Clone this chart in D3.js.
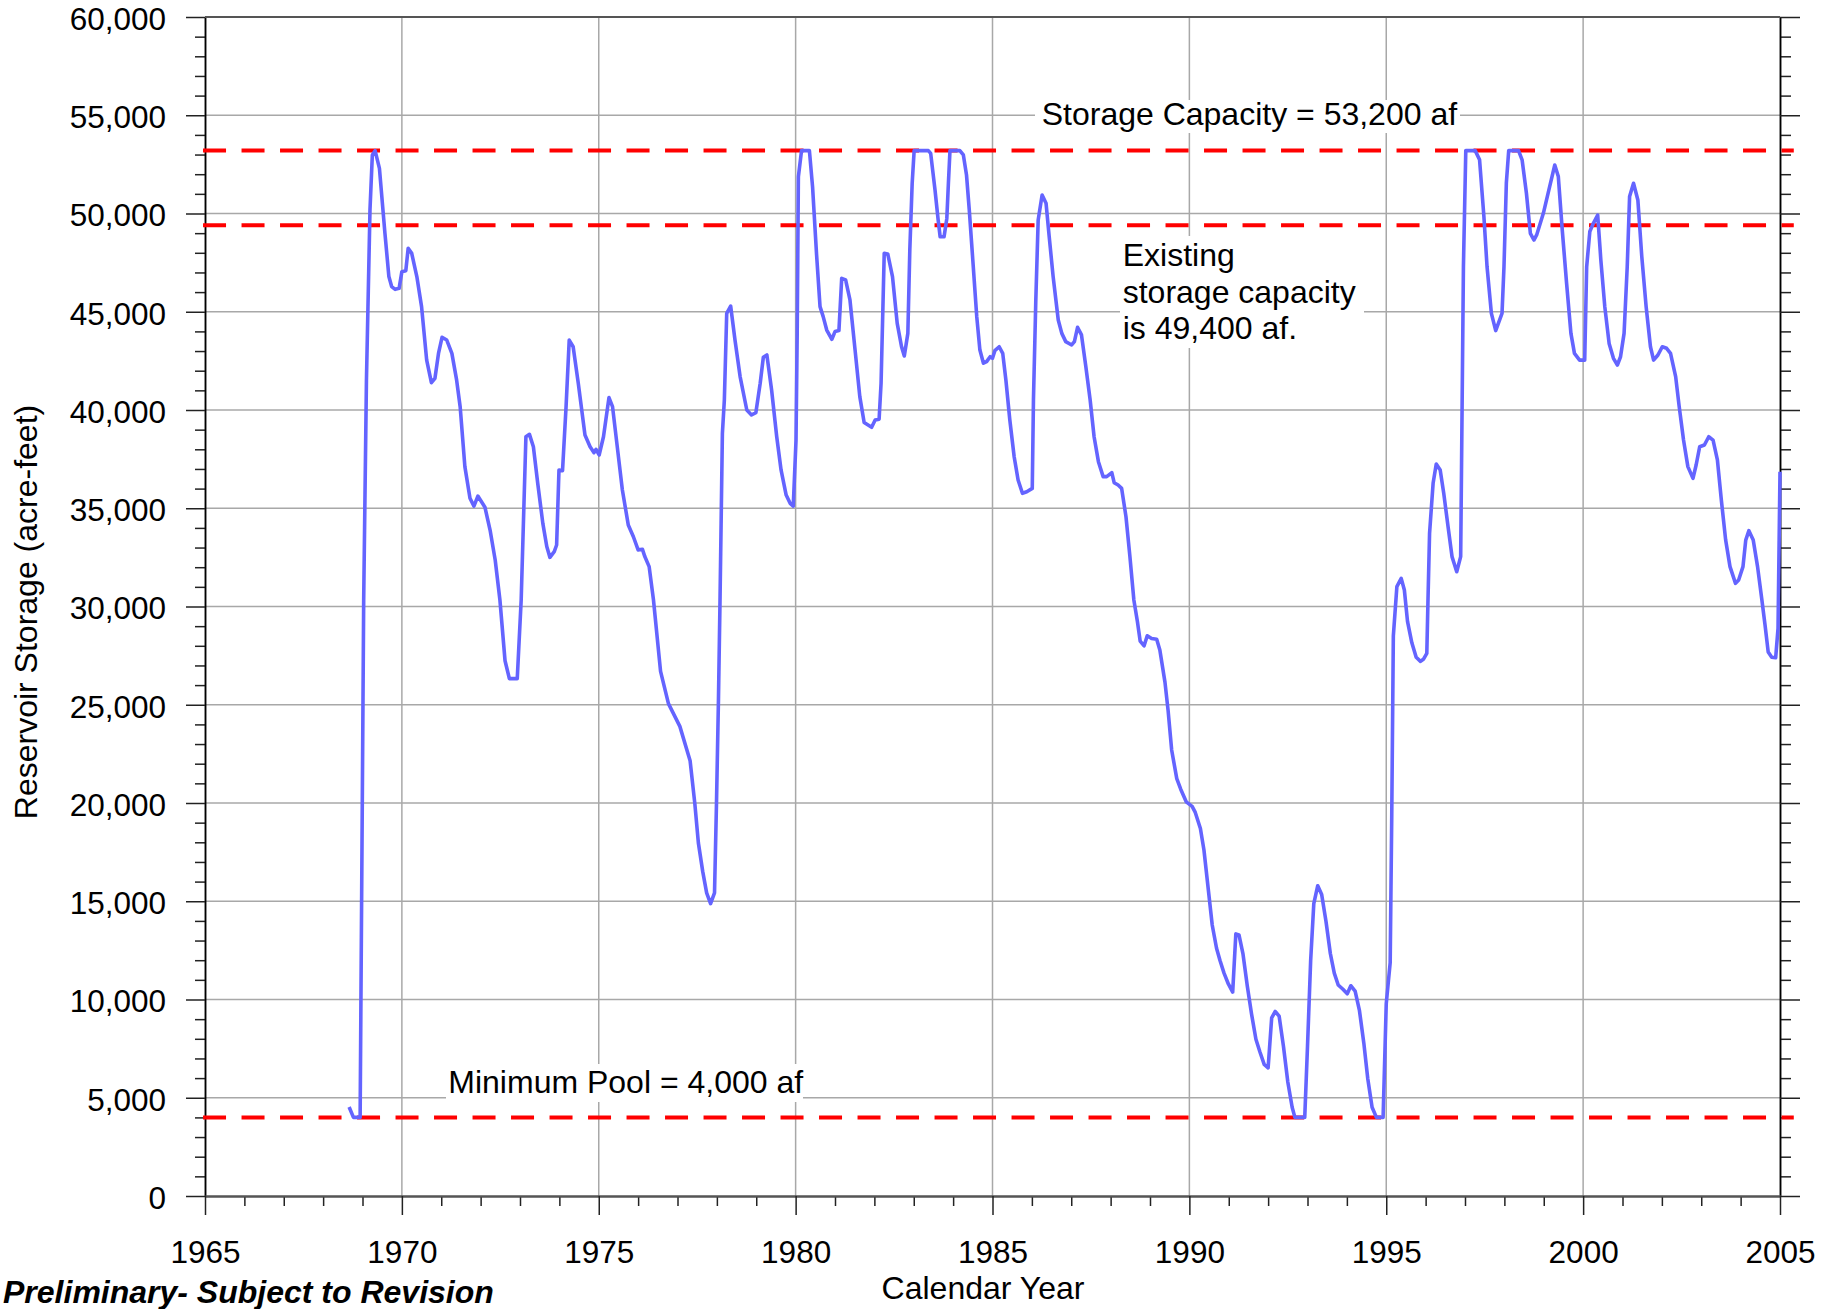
<!DOCTYPE html>
<html>
<head>
<meta charset="utf-8">
<script src="https://cdn.jsdelivr.net/npm/d3@7"></script>
<style>
  body { margin: 0; background: #fff; }
  svg text { font-family: "Liberation Sans", Arial, sans-serif; }
</style>
</head>
<body>
<div class="chart"></div>
<script>
// monthly-ish storage trace
const years = [
  1968.66, 1968.77, 1968.94, 1969.03, 1969.10, 1969.19, 1969.25, 1969.32, 1969.43, 1969.57,
  1969.67, 1969.74, 1969.83, 1969.93, 1970.00, 1970.10, 1970.16, 1970.25, 1970.38, 1970.50,
  1970.63, 1970.75, 1970.84, 1970.93, 1971.02, 1971.14, 1971.27, 1971.39, 1971.48, 1971.60,
  1971.73, 1971.83, 1971.93, 1972.11, 1972.24, 1972.37, 1972.49, 1972.62, 1972.73, 1972.93,
  1973.03, 1973.15, 1973.24, 1973.34, 1973.45, 1973.58, 1973.68, 1973.76, 1973.87, 1973.93,
  1973.99, 1974.08, 1974.17, 1974.25, 1974.35, 1974.48, 1974.65, 1974.78, 1974.88, 1974.93,
  1975.01, 1975.12, 1975.26, 1975.35, 1975.46, 1975.60, 1975.75, 1975.88, 1976.00, 1976.11,
  1976.17, 1976.28, 1976.39, 1976.57, 1976.77, 1977.06, 1977.32, 1977.44, 1977.53, 1977.64,
  1977.74, 1977.84, 1977.94, 1977.99, 1978.04, 1978.08, 1978.14, 1978.19, 1978.25, 1978.35,
  1978.46, 1978.59, 1978.76, 1978.88, 1978.99, 1979.10, 1979.18, 1979.27, 1979.39, 1979.52,
  1979.63, 1979.76, 1979.86, 1979.94, 1980.01, 1980.04, 1980.07, 1980.15, 1980.35, 1980.43,
  1980.53, 1980.62, 1980.70, 1980.79, 1980.92, 1981.00, 1981.10, 1981.17, 1981.27, 1981.38,
  1981.51, 1981.63, 1981.74, 1981.93, 1982.02, 1982.12, 1982.17, 1982.25, 1982.34, 1982.46,
  1982.58, 1982.69, 1982.76, 1982.85, 1982.90, 1982.96, 1983.01, 1983.37, 1983.43, 1983.54,
  1983.62, 1983.67, 1983.77, 1983.84, 1983.88, 1983.92, 1984.17, 1984.26, 1984.34, 1984.41,
  1984.50, 1984.60, 1984.68, 1984.77, 1984.85, 1984.94, 1985.00, 1985.06, 1985.17, 1985.26,
  1985.34, 1985.44, 1985.55, 1985.65, 1985.76, 1985.87, 1986.01, 1986.04, 1986.10, 1986.16,
  1986.26, 1986.36, 1986.44, 1986.54, 1986.67, 1986.76, 1986.86, 1987.01, 1987.08, 1987.16,
  1987.26, 1987.37, 1987.48, 1987.58, 1987.69, 1987.81, 1987.90, 1988.03, 1988.09, 1988.19,
  1988.28, 1988.39, 1988.49, 1988.59, 1988.68, 1988.75, 1988.85, 1988.93, 1989.04, 1989.17,
  1989.25, 1989.38, 1989.46, 1989.55, 1989.68, 1989.78, 1989.92, 1990.07, 1990.15, 1990.28,
  1990.37, 1990.48, 1990.58, 1990.69, 1990.78, 1990.88, 1990.99, 1991.10, 1991.18, 1991.26,
  1991.36, 1991.47, 1991.58, 1991.69, 1991.79, 1991.90, 1992.00, 1992.09, 1992.18, 1992.28,
  1992.39, 1992.50, 1992.61, 1992.68, 1992.93, 1993.00, 1993.08, 1993.16, 1993.26, 1993.36,
  1993.47, 1993.58, 1993.68, 1993.78, 1993.90, 1994.01, 1994.10, 1994.21, 1994.32, 1994.43,
  1994.53, 1994.64, 1994.75, 1994.92, 1995.00, 1995.10, 1995.14, 1995.18, 1995.27, 1995.38,
  1995.46, 1995.54, 1995.65, 1995.76, 1995.87, 1995.95, 1996.03, 1996.06, 1996.10, 1996.19,
  1996.27, 1996.37, 1996.46, 1996.57, 1996.67, 1996.79, 1996.89, 1996.92, 1996.96, 1997.02,
  1997.26, 1997.37, 1997.48, 1997.56, 1997.67, 1997.78, 1997.94, 1997.99, 1998.05, 1998.11,
  1998.36, 1998.45, 1998.56, 1998.66, 1998.75, 1998.82, 1998.99, 1999.15, 1999.28, 1999.37,
  1999.47, 1999.58, 1999.69, 1999.78, 1999.91, 2000.04, 2000.09, 2000.17, 2000.26, 2000.37,
  2000.45, 2000.55, 2000.66, 2000.77, 2000.87, 2000.95, 2001.04, 2001.12, 2001.18, 2001.28,
  2001.39, 2001.49, 2001.60, 2001.71, 2001.79, 2001.90, 2002.01, 2002.12, 2002.22, 2002.35,
  2002.44, 2002.55, 2002.66, 2002.79, 2002.87, 2002.96, 2003.08, 2003.19, 2003.30, 2003.41,
  2003.51, 2003.62, 2003.73, 2003.87, 2003.95, 2004.06, 2004.13, 2004.21, 2004.32, 2004.43,
  2004.54, 2004.62, 2004.70, 2004.79, 2004.89, 2004.95, 2005.00
]

const storage = [
  4530, 4000, 4000, 30330, 41500, 50180, 52980, 53200, 52300, 48990,
  46790, 46280, 46140, 46190, 47040, 47090, 48230, 47970, 46790, 45260,
  42540, 41390, 41610, 42880, 43700, 43560, 42880, 41530, 40170, 37120,
  35510, 35110, 35620, 35050, 33890, 32370, 30330, 27240, 26330, 26330,
  30330, 38640, 38760, 38130, 36270, 34230, 33050, 32500, 32790, 33130,
  36950, 36910, 40170, 43560, 43220, 41360, 38730, 38130, 37830, 38000,
  37710, 38640, 40630, 40170, 38300, 35930, 34150, 33550, 32880, 32910,
  32540, 32030, 30330, 26700, 25060, 23900, 22150, 19970, 17970, 16520,
  15430, 14880, 15430, 19970, 25240, 30330, 38810, 40510, 44920, 45290,
  43560, 41700, 40000, 39750, 39860, 41360, 42680, 42800, 41020, 38640,
  36950, 35670, 35250, 35110, 38470, 43900, 51870, 53200, 53200, 51370,
  47970, 45260, 44750, 44070, 43600, 43990, 44040, 46700, 46620, 45600,
  43050, 40680, 39360, 39120, 39490, 39530, 41360, 47970, 47940, 46790,
  44410, 43220, 42750, 43900, 48140, 51540, 53200, 53200, 53060, 51200,
  49670, 48820, 48820, 49750, 51540, 53200, 53200, 52980, 51960, 50180,
  47630, 44750, 43050, 42380, 42460, 42710, 42630, 43020, 43220, 42880,
  41530, 39490, 37620, 36440, 35760, 35840, 36010, 40510, 45600, 49670,
  50940, 50520, 48820, 46790, 44580, 43900, 43480, 43310, 43480, 44210,
  43820, 42210, 40510, 38640, 37370, 36610, 36610, 36810, 36300, 36180,
  36010, 34570, 32540, 30330, 29240, 28240, 28000, 28510, 28370, 28330,
  27790, 26150, 24700, 22700, 21240, 20700, 20060, 19830, 19520, 18700,
  17610, 15610, 13790, 12610, 11970, 11340, 10790, 10380, 13340, 13290,
  12340, 10700, 9250, 7980, 7340, 6700, 6520, 9060, 9390, 9150,
  7610, 5800, 4520, 4000, 4000, 7610, 11970, 14880, 15790, 15340,
  13970, 12340, 11340, 10740, 10520, 10290, 10700, 10430, 9430, 7790,
  5980, 4520, 4000, 4000, 9790, 11880, 19430, 28510, 31010, 31430,
  30840, 29240, 28150, 27420, 27210, 27330, 27610, 30330, 33720, 36270,
  37250, 36950, 35760, 34060, 32540, 31770, 32540, 38810, 47290, 53200,
  53200, 52730, 49840, 47290, 44920, 44040, 44920, 47290, 51540, 53200,
  53200, 52730, 51030, 48990, 48650, 48910, 50010, 51370, 52470, 51880,
  49160, 46450, 43900, 42880, 42540, 42540, 47290, 49080, 49500, 49920,
  47630, 45260, 43390, 42630, 42290, 42710, 43900, 47290, 50860, 51540,
  50690, 47800, 45260, 43220, 42540, 42800, 43220, 43140, 42880, 41700,
  40170, 38470, 37120, 36520, 37200, 38130, 38220, 38640, 38470, 37460,
  35420, 33380, 32030, 31180, 31350, 32030, 33380, 33860, 33380, 32030,
  30330, 29060, 27690, 27420, 27390, 28880, 36860
]

// dashed reference levels and their notes
const refLevels = [53200, 49400, 4000]
const notes = [
  { lines: ['Storage Capacity = 53,200 af'], x: 1041.7, y: 125, box: [1035, 100, 425, 33] },
  { lines: ['Existing', 'storage capacity', 'is 49,400 af.'], x: 1122.7, y: 266, box: [1120, 236, 244, 112] },
  { lines: ['Minimum Pool = 4,000 af'], x: 448.3, y: 1093, box: [446, 1064, 357, 38] }
]

const xMajor = d3.range(1965, 2006, 5)
const xMinor = d3.range(1965, 2006, 1).filter(v => v % 5 !== 0)
const yMajor = d3.range(0, 60001, 5000)
const yMinor = d3.range(0, 60001, 1000).filter(v => v % 5000 !== 0)

var width = 1834, height = 1309
var margin = {top: 17, right: 54, bottom: 113, left: 205}
var fs = '31.5px'

var svg = d3.select('.chart')
  .append('svg')
    .attr('width', width)
    .attr('height', height)

var x = d3.scaleLinear().domain([1965, 2005]).range([margin.left, width - margin.right])
var y = d3.scaleLinear().domain([0, 60000]).range([height - margin.bottom, margin.top])

// grid
svg.append('g')
  .selectAll('line')
  .data(xMajor.slice(1, -1))
  .enter()
  .append('line')
    .attr('x1', d => x(d)).attr('x2', d => x(d))
    .attr('y1', y(0)).attr('y2', y(60000))
    .style('stroke', '#a8a8a8').style('stroke-width', 1.5)

svg.append('g')
  .selectAll('line')
  .data(yMajor.slice(1, -1))
  .enter()
  .append('line')
    .attr('x1', x(1965)).attr('x2', x(2005))
    .attr('y1', d => y(d)).attr('y2', d => y(d))
    .style('stroke', '#a8a8a8').style('stroke-width', 1.5)

// label boxes knock out the grid behind the notes
svg.append('g')
  .selectAll('rect')
  .data(notes)
  .enter()
  .append('rect')
    .attr('x', d => d.box[0]).attr('y', d => d.box[1])
    .attr('width', d => d.box[2]).attr('height', d => d.box[3])
    .style('fill', '#fff')

// axes
function styleAxis (g, col, w) {
  g.select('.domain').style('stroke', col).style('stroke-width', w)
  g.selectAll('.tick line').style('stroke', '#222').style('stroke-width', 1.5)
  g.selectAll('text').style('font-size', fs).style('fill', '#000')
}

svg.append('g')
  .attr('transform', 'translate(' + x(1965) + ',0)')
  .call(d3.axisLeft(y).tickValues(yMinor).tickSize(10).tickSizeOuter(0).tickFormat(''))
  .call(g => styleAxis(g, '#000', 1.5))

svg.append('g')
  .attr('transform', 'translate(' + x(1965) + ',0)')
  .call(d3.axisLeft(y).tickValues(yMajor).tickSize(19).tickSizeOuter(0).tickPadding(20).tickFormat(d3.format(',')))
  .call(g => styleAxis(g, '#000', 1.5))
  .call(g => g.selectAll('text').attr('dy', '0.39em'))

svg.append('g')
  .attr('transform', 'translate(' + x(2005) + ',0)')
  .call(d3.axisRight(y).tickValues(yMinor).tickSize(11).tickSizeOuter(0).tickFormat(''))
  .call(g => styleAxis(g, '#000', 1.5))

svg.append('g')
  .attr('transform', 'translate(' + x(2005) + ',0)')
  .call(d3.axisRight(y).tickValues(yMajor).tickSize(20).tickSizeOuter(0).tickFormat(''))
  .call(g => styleAxis(g, '#000', 1.5))

svg.append('g')
  .attr('transform', 'translate(0,' + y(0) + ')')
  .call(d3.axisBottom(x).tickValues(xMinor).tickSize(10).tickSizeOuter(0).tickFormat(''))
  .call(g => styleAxis(g, '#555', 2))

svg.append('g')
  .attr('transform', 'translate(0,' + y(0) + ')')
  .call(d3.axisBottom(x).tickValues(xMajor).tickSize(19).tickSizeOuter(0).tickPadding(26).tickFormat(d3.format('d')))
  .call(g => styleAxis(g, '#555', 2))

// top frame
svg.append('line')
  .attr('x1', x(1965)).attr('x2', x(2005))
  .attr('y1', y(60000)).attr('y2', y(60000))
  .style('stroke', '#555').style('stroke-width', 2)

// reference levels
svg.append('g')
  .selectAll('line')
  .data(refLevels)
  .enter()
  .append('line')
    .attr('x1', x(1964.95)).attr('x2', x(2005.35))
    .attr('y1', d => y(d)).attr('y2', d => y(d))
    .style('stroke', '#ff0000')
    .style('stroke-width', 4)
    .style('stroke-dasharray', '23,15.5')

// storage trace
var line = d3.line()
  .x((d, i) => x(years[i]))
  .y(d => y(d))

svg.append('path')
  .datum(storage)
  .attr('d', line)
  .style('fill', 'none')
  .style('stroke', '#6464ff')
  .style('stroke-width', 3.6)
  .style('stroke-linejoin', 'round')

// notes
notes.forEach(n => {
  n.lines.forEach((t, i) => {
    svg.append('text')
      .attr('x', n.x)
      .attr('y', n.y + i * 36.7)
      .style('font-size', '32px')
      .text(t)
  })
})

// axis titles
svg.append('text')
  .attr('transform', 'translate(37,612) rotate(-90)')
  .attr('text-anchor', 'middle')
  .style('font-size', '32px')
  .text('Reservoir Storage (acre-feet)')

svg.append('text')
  .attr('x', 983)
  .attr('y', 1299)
  .attr('text-anchor', 'middle')
  .style('font-size', '32px')
  .text('Calendar Year')

svg.append('text')
  .attr('x', 3)
  .attr('y', 1303)
  .style('font-size', '32px')
  .style('font-weight', 'bold')
  .style('font-style', 'italic')
  .text('Preliminary- Subject to Revision')
</script>
</body>
</html>
